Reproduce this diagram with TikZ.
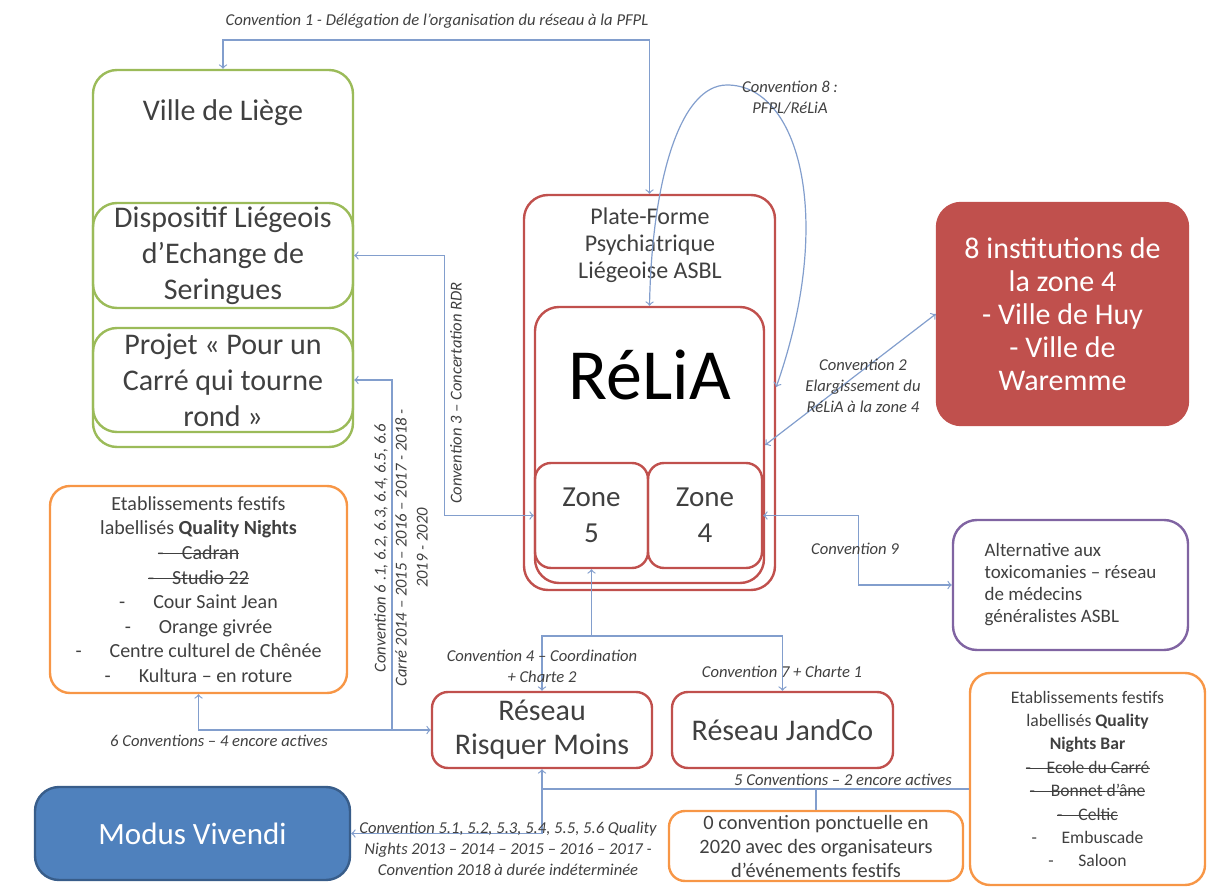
\documentclass[tikz,border=0pt]{standalone}
\usepackage{fontspec}
\setmainfont{Carlito}
\usetikzlibrary{arrows}

\definecolor{vert}{HTML}{9BBB59}
\definecolor{rouge}{HTML}{C0504D}
\definecolor{orange}{HTML}{F79646}
\definecolor{mauve}{HTML}{8064A2}
\definecolor{bleu}{HTML}{4F81BD}
\definecolor{bleufonce}{HTML}{385D8A}
\definecolor{lien}{RGB}{130,158,205}
\definecolor{gris}{HTML}{404040}

% texte barre
\newcommand{\barre}[1]{\setbox0\hbox{#1}\rlap{\rule[0.55ex]{\wd0}{0.45pt}}\box0}

\begin{document}
\begin{tikzpicture}[>=to, x=0.5pt, y=-0.5pt]
	\tikzstyle{boite} = [draw, line width=1.2pt, rounded corners=12pt, inner sep=0pt, align=center, text=gris]
	\tikzstyle{vbox} = [boite, draw=vert]
	\tikzstyle{rbox} = [boite, draw=rouge]
	\tikzstyle{obox} = [boite, draw=orange, rounded corners=10pt]
	\tikzstyle{grand} = [font=\fontsize{15}{18}\selectfont]
	\tikzstyle{moyen} = [font=\fontsize{15}{17}\selectfont]
	\tikzstyle{liste} = [font=\fontsize{10}{12.3}\selectfont]
	\tikzstyle{conv} = [draw=lien, line width=0.6pt]
	\tikzstyle{etiq} = [font=\fontsize{8.3}{10.5}\selectfont\itshape, text=gris, align=center, inner sep=0pt]
	\useasboundingbox (0,0) rectangle (1211,893);

	% Ville de Liege et ses projets
	\node[vbox, minimum width=130pt, minimum height=188.5pt] (liege) at (223,258.5) {};
	\node[grand, text=gris] (liegeT) at (223,113) {Ville de Liège};
	\node[vbox, grand, minimum width=130pt, minimum height=52.5pt] (dles) at (223,255.5)
		{Dispositif Liégeois\\d’Echange de\\Seringues};
	\node[vbox, grand, minimum width=130pt, minimum height=52pt] (projet) at (223,380)
		{Projet «~Pour un\\Carré qui tourne\\rond~»};

	% PFPL / ReLiA
	\node[rbox, minimum width=125.5pt, minimum height=197.5pt] (pfpl) at (649.5,392.5) {};
	\node[font=\fontsize{12}{13.5}\selectfont, text=gris, align=center] (pfplT) at (650,245)
		{Plate-Forme\\Psychiatrique\\Liégeoise ASBL};
	\node[rbox, minimum width=114.5pt, minimum height=138pt] (relia) at (649.5,445) {};
	\node[font=\fontsize{36}{40}\selectfont] (reliaT) at (650,375) {RéLiA};
	\node[rbox, font=\fontsize{14.5}{18}\selectfont, rounded corners=8pt, minimum width=56.5pt, minimum height=52.5pt] (zone5) at (591.5,515.5) {Zone\\5};
	\node[rbox, font=\fontsize{14.5}{18}\selectfont, rounded corners=8pt, minimum width=57pt, minimum height=52.5pt] (zone4) at (705,515.5) {Zone\\4};

	% partenaires
	\node[rbox, font=\fontsize{15}{16.5}\selectfont, fill=rouge, text=white, minimum width=125.5pt, minimum height=111pt] (inst) at (1062.5,314)
		{8 institutions de\\la zone 4\\- Ville de Huy\\- Ville de\\Waremme};
	\node[boite, draw=mauve, font=\fontsize{9.5}{11}\selectfont, align=left, minimum width=117.5pt, minimum height=65pt] (alt) at (1070.5,585)
		{Alternative aux\\toxicomanies – réseau\\de médecins\\généralistes ASBL};
	\node[obox, liste, minimum width=148.5pt, minimum height=103.5pt] (qnL) at (198.5,589.5)
		{Etablissements festifs\\labellisés \textbf{Quality Nights}\\\barre{-\hspace{0.9em}Cadran}\\\barre{-\hspace{0.9em}Studio 22}\\
		 -\hspace{1.4em}Cour Saint Jean\\-\hspace{1.4em}Orange givrée\\-\hspace{1.4em}Centre culturel de Chênée\\-\hspace{1.4em}Kultura – en roture};
	\node[rbox, moyen, rounded corners=8pt, minimum width=110pt, minimum height=38pt] (rrm) at (542,730) {Réseau\\Risquer Moins};
	\node[rbox, moyen, rounded corners=8pt, minimum width=110.5pt, minimum height=38pt] (jand) at (782.5,730) {Réseau JandCo};
	\node[boite, draw=bleufonce, fill=bleu, text=white, font=\fontsize{15.5}{17}\selectfont, minimum width=157.5pt, minimum height=46.5pt] (modus) at (192.5,833.5) {Modus Vivendi};
	\node[obox, font=\fontsize{10.2}{12}\selectfont, rounded corners=8pt, minimum width=147pt, minimum height=35pt] (zero) at (816,846)
		{0 convention ponctuelle en\\2020 avec des organisateurs\\d’événements festifs};
	\node[obox, font=\fontsize{8.8}{11.7}\selectfont, minimum width=117.5pt, minimum height=106pt] (qnR) at (1087.5,779)
		{Etablissements festifs\\labellisés \textbf{Quality}\\\textbf{Nights Bar}\\\barre{-\hspace{0.9em}Ecole du Carré}\\\barre{-\hspace{0.9em}Bonnet d’âne}\\\barre{-\hspace{0.9em}Celtic}\\
		 -\hspace{1.4em}Embuscade\\-\hspace{1.4em}Saloon};

	% conventions
	\coordinate (c1) at (437,40);
	\draw[conv, <->] (liege.north) |- (c1) -| (pfpl.north);
	\node[etiq] (l1) at (437,21) {Convention 1 - Délégation de l’organisation du réseau à la PFPL};

	\coordinate (c8) at (727,85);
	\draw[conv, <->] (relia.north) .. controls (652,180) and (680,85) .. (c8)
		.. controls (800,85) and (835,220) .. (pfpl.east |- 0,387);
	\node[etiq] (l8) at (790,98) {Convention 8 :\\PFPL/RéLiA};

	\draw[conv, <->] (dles.east) -- ++(90,0) |- (zone5.west);
	\node[etiq, rotate=90] (l3) at (456,393) {Convention 3 – Concertation RDR};

	\coordinate (c6) at (392,730);
	\draw[conv, ->] (c6) |- (projet.east);
	\draw[conv, <->] (qnL.south) |- (rrm.west);
	\node[etiq, rotate=90] (l6) at (401,548) {Convention 6 .1, 6.2, 6.3, 6.4, 6.5, 6.6\\Carré 2014 – 2015 – 2016 – 2017 - 2018 -\\2019 - 2020};
	\node[etiq] (l6b) at (219,741) {6 Conventions – 4 encore actives};

	\coordinate (c4) at (591.5,636);
	\draw[conv, ->] (c4) -- (zone5.south);
	\draw[conv, ->] (c4) -| (rrm.north);
	\draw[conv, ->] (c4) -| (jand.north);
	\node[etiq] (l4) at (542,666) {Convention 4 – Coordination\\+ Charte 2};
	\node[etiq] (l7) at (782,672) {Convention 7 + Charte 1};

	\draw[conv, <->] (relia.east) -- (inst.west);
	\node[etiq] (l2) at (863,386) {Convention 2\\Elargissement du\\RéLiA à la zone 4};

	\draw[conv, <->] (zone4.east) -- ++(95,0) |- (alt.west);
	\node[etiq] (l9) at (855,549) {Convention 9};

	\draw[conv, <->] (rrm.south) |- (modus.east);
	\coordinate (c5) at (542,789);
	\coordinate (c5b) at (816,789);
	\draw[conv] (c5) -- (c5 -| qnR.west);
	\draw[conv] (c5b) -- (zero.north);
	\node[etiq] (l5) at (843,780) {5 Conventions – 2 encore actives};
	\node[etiq] (l5b) at (508,849) {Convention 5.1, 5.2, 5.3, 5.4, 5.5, 5.6 Quality\\Nights 2013 – 2014 – 2015 – 2016 – 2017 -\\Convention 2018 à durée indéterminée};
\end{tikzpicture}
\end{document}
